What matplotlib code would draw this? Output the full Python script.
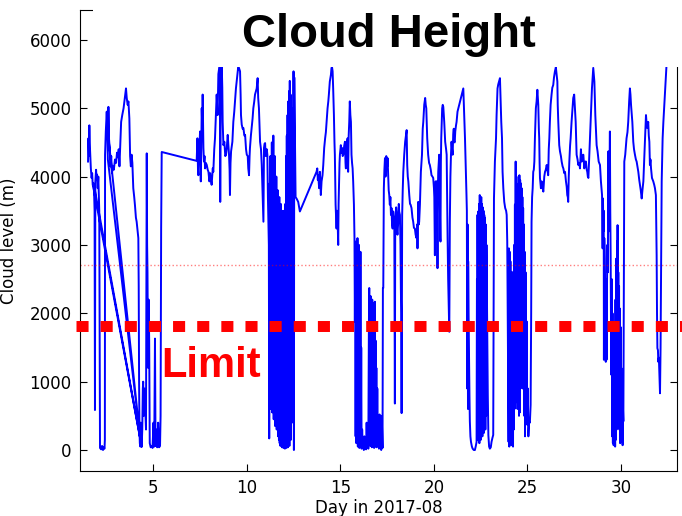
"""
plot.py - cloud height (ceilometer) for August 2017, with the limit line.
Values read off the reference picture; order follows the logger file
(it jumps back in time twice near the start, hence the diagonal lines).
"""

import matplotlib
matplotlib.use("Agg")
import matplotlib.pyplot as plt
from matplotlib.patches import Rectangle

# ---------------------------------------------------------------------------
# data: day of month / cloud level in metres
# ---------------------------------------------------------------------------
days_w1 = [1.50, 1.52, 1.55, 1.57, 1.59, 1.62, 1.65, 1.69, 1.72, 1.75, 1.78,
           4.37, 1.80,
           1.83, 1.85, 1.87, 1.89, 1.93, 1.96, 1.98, 2.02, 2.05, 2.10, 2.14,
           2.20, 2.25, 2.30, 2.35, 2.38, 2.40, 2.41, 2.45, 2.50, 2.53, 2.56,
           4.28, 2.58,
           2.59, 2.62, 2.66, 2.70, 2.74, 2.78, 2.83, 2.88, 2.94, 3.00, 3.05,
           3.10, 3.14, 3.18, 3.22, 3.27, 3.33, 3.40, 3.47, 3.53, 3.57, 3.62,
           3.66, 3.71, 3.75, 3.79, 3.83, 3.87, 3.92, 3.97, 4.01, 4.06, 4.10,
           4.15, 4.19, 4.21, 4.23, 4.25, 4.27, 4.30, 4.32, 4.35, 4.37, 4.40,
           4.43, 4.45, 4.48, 4.52, 4.56, 4.60, 4.62, 4.64, 4.66, 4.68, 4.70,
           4.72, 4.74, 4.77, 4.80, 4.85, 4.90, 4.95, 5.00, 5.04, 5.08, 5.11,
           5.15, 5.20, 5.25, 5.30, 5.35, 5.38, 5.41, 5.44]
level_w1 = [4220, 4560, 4300, 4750, 4500, 4320, 4120, 3980, 4050, 3880, 3850,
            50, 3900,
            3700, 3500, 585, 3930, 4100, 3950, 4030, 3830, 4000, 3500, 30,
            10, 60, 0, 40, 20, 150, 4320, 4660, 4950, 4700, 4250,
            190, 4600,
            5020, 4560, 4400, 4150, 4300, 4050, 4150, 4100, 4250, 4200, 4350,
            4280, 4400, 4150, 4450, 4800, 4900, 5000, 5150, 5290, 5150, 5050,
            5100, 4850, 4300, 4150, 4320, 4200, 3830, 3700, 3580, 3400, 3340,
            3200, 3100, 2400, 1000, 300, 100, 50, 400, 150, 50, 300,
            900, 1000, 500, 900, 600, 300, 2500, 4340, 3000, 2600, 1650,
            1200, 2200, 1600, 100, 40, 60, 30, 400, 50, 1630, 60,
            300, 40, 400, 40, 60, 500, 3250, 4360]

days_w2 = [7.31, 7.35, 7.38, 7.40, 7.43, 7.45, 7.49, 7.53, 7.56, 7.58, 7.61,
           7.63, 7.67, 7.70, 7.73, 7.76, 7.80, 7.85, 7.90, 7.94, 7.99, 8.03,
           8.06, 8.11, 8.15, 8.17, 8.20, 8.25, 8.29, 8.34, 8.38, 8.43, 8.47,
           8.52, 8.56, 8.57, 8.59, 8.61, 8.65, 8.68, 8.70, 8.74, 8.79, 8.84,
           8.88, 8.92, 8.97, 9.01, 9.04, 9.07, 9.09, 9.12, 9.15, 9.22, 9.27,
           9.32, 9.36, 9.41, 9.49, 9.53, 9.57, 9.63, 9.66, 9.68, 9.72, 9.77,
           9.81, 9.86, 9.90, 9.95, 9.99, 10.04, 10.07, 10.11, 10.14, 10.16,
           10.21, 10.25, 10.30, 10.34, 10.39, 10.43, 10.52, 10.57, 10.60,
           10.64, 10.70, 10.75, 10.79, 10.82, 10.84, 10.88, 10.90, 10.91,
           10.94, 10.97, 11.00, 11.02, 11.06, 11.09, 11.12, 11.14, 11.17,
           # low cloud, 11-12 Aug
           11.19, 11.21, 11.23, 11.25, 11.27, 11.29, 11.31, 11.33, 11.35,
           11.37, 11.39, 11.41, 11.43, 11.45, 11.47, 11.49, 11.51, 11.53,
           11.55, 11.57, 11.59, 11.61, 11.63, 11.65, 11.67, 11.69, 11.71,
           11.73, 11.75, 11.77, 11.79, 11.81, 11.83, 11.85, 11.87, 11.89,
           11.91, 11.93, 11.95, 11.97, 11.99, 12.01, 12.03, 12.05, 12.07,
           12.09, 12.11, 12.13, 12.15, 12.17, 12.19, 12.21, 12.23, 12.25,
           12.27, 12.29, 12.31, 12.33, 12.35, 12.37, 12.40, 12.43, 12.46,
           12.49, 12.51, 12.53, 12.56, 12.60, 12.65, 12.74, 12.83]
level_w2 = [4230, 4560, 4100, 4020, 4400, 4370, 4660, 3930, 4500, 5000, 4700,
            5200, 4420, 4220, 4300, 4120, 4200, 4170, 4100, 4070, 3930, 4050,
            3970, 3880, 4050, 4120, 4070, 4400, 4560, 4900, 5200, 4900, 5500,
            5600, 5590, 3630, 5200, 5340, 5640, 5300, 4800, 4460, 4510, 4300,
            4320, 4420, 4610, 4450, 4320, 4100, 3730, 4200, 4370, 4510, 4800,
            4950, 5100, 5290, 5490, 5600, 5590, 5540, 5200, 4900, 4760, 4700,
            4710, 4600, 4610, 4400, 4320, 4300, 4120, 4020, 4300, 4420,
            4600, 4710, 4850, 5000, 5100, 5200, 5290, 5440, 5150,
            5000, 4510, 4400, 4170, 3900, 3680, 3340, 4000, 4420,
            4480, 4490, 4300, 4320, 4400, 4320, 3700, 3440, 3000,
            170, 3900, 900, 4300, 600, 4200, 1200, 4500, 550,
            4400, 800, 4600, 450, 4100, 700, 4300, 350, 3900,
            600, 4000, 300, 3700, 450, 3800, 200, 3500, 150,
            3700, 100, 3500, 60, 3600, 120, 3400, 40, 3300,
            80, 3500, 30, 3200, 60, 3250, 20, 3600, 50,
            4300, 30, 4600, 80, 4900, 40, 5100, 100, 5250,
            60, 5400, 200, 5200, 150, 4800, 400, 5000, 600,
            5540, 0, 5450, 4700, 3700, 3680, 3630, 3490]

days_w3 = [13.72, 13.76, 13.79, 13.81, 13.84, 13.86, 13.90, 13.93, 13.95,
           13.99, 14.04, 14.08, 14.13, 14.18, 14.22, 14.26, 14.31, 14.35,
           14.38, 14.43, 14.49, 14.52, 14.55, 14.58, 14.61, 14.65, 14.68,
           14.70, 14.72, 14.74, 14.77, 14.79, 14.82, 14.84, 14.86, 14.88,
           14.90, 14.92, 14.95, 14.97, 15.00, 15.02, 15.05, 15.08, 15.12,
           15.15, 15.20, 15.24, 15.27, 15.29, 15.31, 15.33, 15.36, 15.38,
           15.41, 15.44, 15.47, 15.50, 15.53, 15.56, 15.59, 15.62, 15.65,
           15.68, 15.72, 15.75, 15.77,
           # fog, 16-17 Aug
           15.79, 15.81, 15.83, 15.85, 15.87, 15.89, 15.91, 15.93, 15.95,
           15.97, 15.99, 16.01, 16.03, 16.05, 16.07, 16.09, 16.11, 16.13,
           16.16, 16.19, 16.22, 16.25, 16.28, 16.31, 16.34, 16.37, 16.40,
           16.43, 16.46, 16.49, 16.52, 16.54, 16.56, 16.58, 16.60, 16.62,
           16.64, 16.66, 16.68, 16.70, 16.72, 16.74, 16.76, 16.78, 16.80,
           16.82, 16.84, 16.86, 16.88, 16.90, 16.92, 16.94, 16.97, 17.00,
           17.03, 17.06, 17.09, 17.12, 17.15, 17.18, 17.21, 17.25, 17.27]
level_w3 = [4070, 4120, 3950, 4020, 3900, 3830, 4070, 3850, 3730,
            3930, 4020, 4170, 4420, 4560, 4650, 4800, 5000, 5100,
            5200, 5390, 5490, 5590, 5600, 5540, 5290, 4900, 4500,
            4320, 3900, 3590, 3400, 3240, 3500, 3440, 3200, 3000,
            3600, 3830, 4200, 4320, 4400, 4460, 4350, 4420, 4300,
            4320, 4450, 4510, 4200, 4120, 4400, 4370, 4500, 4560,
            4070, 4600, 4800, 5100, 4900, 4800, 4320, 4200, 4120,
            3930, 3590, 3100, 1880,
            2950, 200, 3050, 100, 2900, 300, 3100, 50, 2800,
            150, 3000, 30, 2700, 100, 2900, 60, 1500, 20,
            300, 80, 150, 0, 200, 20, 120, 10, 400,
            50, 250, 20, 1800, 2370, 100, 2200, 60, 2250,
            150, 2100, 40, 2200, 100, 2050, 60, 2150, 30,
            2100, 2170, 50, 1600, 100, 1200, 40, 900, 60,
            500, 20, 520, 100, 300, 0, 500, 30, 2370]

days_w4 = [17.29, 17.32, 17.35, 17.38, 17.41, 17.43, 17.45, 17.47, 17.50,
           17.52, 17.56, 17.58, 17.61, 17.64, 17.67, 17.70, 17.73, 17.76,
           17.79, 17.82, 17.85, 17.88, 17.91, 17.93, 17.95, 17.98, 18.00,
           18.03, 18.05, 18.09, 18.12, 18.14, 18.18, 18.21, 18.23, 18.25,
           18.27, 18.29, 18.30, 18.33, 18.36, 18.41, 18.46, 18.50, 18.54,
           18.57, 18.60, 18.63, 18.68, 18.72, 18.75, 18.80, 18.85, 18.89,
           18.93, 18.98, 19.02, 19.07, 19.10, 19.12, 19.16, 19.19, 19.21,
           19.25, 19.30, 19.36, 19.40, 19.43, 19.48, 19.53, 19.56, 19.59,
           19.64, 19.69, 19.74, 19.78, 19.83, 19.87, 19.92, 19.96, 20.00,
           20.02, 20.05, 20.07, 20.09, 20.12, 20.14, 20.17, 20.19, 20.21,
           20.23, 20.28, 20.30, 20.32, 20.34, 20.35, 20.37, 20.39, 20.44,
           20.47, 20.50, 20.55, 20.60, 20.65, 20.68, 20.71, 20.73, 20.76,
           20.78, 20.82, 20.85, 20.88, 20.91, 20.94, 20.97, 21.00, 21.03,
           21.06, 21.08, 21.11, 21.14, 21.18, 21.21, 21.26, 21.57, 21.60,
           21.66, 21.71, 21.74, 21.76, 21.78, 21.80, 21.82, 21.83, 21.85,
           21.87, 21.90, 21.92, 21.95, 21.98, 22.03, 22.07, 22.13, 22.19,
           22.24, 22.28,
           # low cloud, 22 Aug
           22.30, 22.32, 22.33, 22.35, 22.37, 22.39, 22.41, 22.43, 22.45,
           22.47, 22.49, 22.51, 22.53, 22.55, 22.57, 22.59, 22.61, 22.63,
           22.65, 22.67, 22.69, 22.71, 22.73, 22.75, 22.77, 22.79, 22.81]
level_w4 = [2370, 3830, 4100, 4270, 4000, 4070, 4300, 4220, 4150,
            4270, 3930, 3800, 3730, 3590, 3700, 3440, 3540, 3300,
            3240, 3490, 3350, 3340, 680, 3400, 3440, 3550, 3490,
            3200, 3150, 3340, 3600, 3490, 3440, 3000, 2370, 2000,
            540, 2500, 3440, 3800, 4070, 4320, 4510, 4600, 4680,
            4170, 4000, 3930, 3730, 3600, 3590, 3540, 3400, 3340,
            3250, 3240, 3150, 3100, 3300, 2950, 3630, 3300, 3340,
            3590, 4070, 4320, 4700, 4800, 5050, 5150, 5050, 5000,
            4560, 4320, 4200, 4170, 4100, 4020, 4000, 3980, 3830,
            3700, 2850, 3700, 3930, 3900, 3930, 3600, 2660, 3800,
            4070, 4320, 3900, 3590, 3100, 3050, 4200, 4560, 5000,
            5050, 5020, 4800, 4510, 4400, 4320, 3500, 3100, 2500,
            2220, 1730, 3340, 4000, 4320, 4510, 4400, 4320, 4610,
            4700, 4510, 4500, 4660, 4750, 4800, 4950, 5290, 5050,
            4560, 4070, 3730, 3500, 900, 3300, 600, 2760, 2000,
            1490, 800, 420, 200, 120, 50, 20, 0, 0,
            60, 120,
            2500, 150, 3440, 300, 3490, 200, 3600, 100, 3730,
            250, 3650, 150, 3700, 300, 3600, 200, 3550, 350,
            3500, 250, 3440, 400, 3400, 300, 3300, 500, 3000]

days_w5 = [22.83, 22.86, 22.88, 22.91, 22.95, 22.99, 23.04, 23.08, 23.13,
           23.17, 23.19, 23.21, 23.26, 23.32, 23.35, 23.40, 23.44, 23.48,
           23.53, 23.57, 23.60, 23.64, 23.67, 23.71, 23.76, 23.81, 23.86,
           23.89, 23.92, 23.96, 23.99,
           # low cloud, 24 Aug
           24.01, 24.03, 24.05, 24.07, 24.09, 24.11, 24.13, 24.15, 24.17,
           24.19, 24.21, 24.23, 24.25, 24.27, 24.29, 24.31, 24.33, 24.35,
           24.37, 24.39, 24.41, 24.43, 24.45, 24.47, 24.49, 24.51, 24.53,
           24.55, 24.57, 24.59, 24.61, 24.63, 24.65, 24.67, 24.69, 24.71,
           24.73, 24.75, 24.77, 24.79, 24.81, 24.83, 24.85, 24.87, 24.90,
           24.93, 24.96, 24.99, 25.02, 25.05, 25.09, 25.13, 25.17, 25.20,
           25.22, 25.25, 25.28, 25.31, 25.34, 25.37, 25.40, 25.43, 25.45,
           25.49, 25.53, 25.56, 25.58, 25.61, 25.63, 25.65, 25.67, 25.70,
           25.72, 25.76, 25.80, 25.85, 25.90, 25.94, 25.98, 26.03, 26.07,
           26.11, 26.14, 26.17, 26.20, 26.24, 26.29, 26.33, 26.38, 26.42,
           26.47, 26.52, 26.56, 26.60, 26.62, 26.65, 26.70, 26.74, 26.79,
           26.83, 26.88, 26.92, 26.97, 27.01, 27.06, 27.10, 27.13, 27.16,
           27.18, 27.21, 27.24, 27.28, 27.31, 27.36, 27.41, 27.45, 27.50,
           27.54, 27.58, 27.63, 27.68, 27.72, 27.77, 27.81, 27.86, 27.90,
           27.94, 27.99, 28.04]
level_w5 = [2370, 1460, 800, 220, 50, 20, 40, 120, 180,
            220, 2000, 3680, 4220, 4560, 4900, 5290, 5350, 5390,
            5440, 5050, 4800, 4560, 4070, 3830, 3630, 3540, 3500,
            3440, 3050, 1390, 120,
            2950, 50, 2900, 1460, 2760, 300, 2600, 70, 2370,
            200, 2500, 50, 2610, 300, 3000, 600, 3590, 830,
            4220, 700, 4000, 1460, 3830, 600, 3750, 730, 3900,
            500, 4020, 550, 3950, 900, 3900, 1000, 3830, 1390,
            3700, 900, 3540, 1100, 3300, 500, 2900, 200, 2600,
            500, 1880, 370, 900, 200, 420, 400, 660, 2000,
            3340, 3700, 3830, 4070, 4100, 4220, 4560, 4800, 5000,
            5100, 5270, 5150, 5050, 4700, 4560, 4200, 3980, 3880,
            3830, 3930, 3850, 3780, 4000, 4070, 4100, 4170, 4100,
            4020, 4400, 4560, 4800, 5050, 5200, 5300, 5340, 5450,
            5540, 5600, 5500, 5390, 5050, 4800, 4460, 4370, 4300,
            4220, 4150, 4120, 4050, 4070, 3930, 3850, 3730, 3700,
            3630, 4000, 4220, 4450, 4560, 4800, 5000, 5150, 5200,
            5000, 4800, 4320, 4250, 4170, 4200, 4120, 4400, 4220,
            4300, 4320, 4120]

days_w6 = [28.09, 28.13, 28.17, 28.20, 28.23, 28.26, 28.31, 28.38, 28.45,
           28.52, 28.58, 28.63, 28.70, 28.75, 28.81, 28.88, 28.93, 28.99,
           # low cloud, 29-30 Aug
           29.02, 29.04, 29.06, 29.08, 29.09, 29.11, 29.13, 29.15, 29.17,
           29.19, 29.21, 29.23, 29.25, 29.27, 29.30, 29.33, 29.36, 29.39,
           29.41, 29.43, 29.45, 29.47, 29.49, 29.51, 29.53, 29.55, 29.57,
           29.59, 29.61, 29.63, 29.65, 29.67, 29.69, 29.71, 29.73, 29.75,
           29.77, 29.79, 29.81, 29.82, 29.84, 29.86, 29.88, 29.90, 29.92,
           29.94, 29.96, 29.98, 30.00, 30.02, 30.04, 30.07, 30.09, 30.11,
           30.13, 30.16,
           30.18, 30.23, 30.30, 30.35, 30.39, 30.44, 30.48, 30.51, 30.54,
           30.58, 30.61, 30.66, 30.70, 30.75, 30.80, 30.84, 30.88, 30.93,
           30.98, 31.02, 31.06, 31.11, 31.15, 31.20, 31.25, 31.29, 31.34,
           31.38, 31.41, 31.46, 31.49, 31.52, 31.55, 31.58, 31.61, 31.66,
           31.70, 31.73, 31.78, 31.82, 31.87, 31.91, 31.93, 31.95, 31.98,
           32.00, 32.03, 32.05, 32.07, 32.09, 32.12, 32.14, 32.18, 32.23,
           32.27, 32.32, 32.37, 32.41, 32.44, 32.46]
level_w6 = [4220, 4220, 4100, 4070, 4000, 3980, 4320, 4800, 5290,
            5590, 5390, 4900, 4460, 4370, 4220, 4170, 3930, 3730,
            2950, 3680, 3200, 3500, 1320, 3100, 2800, 2370, 2000,
            1290, 2500, 1320, 2200, 3000, 2600, 4370, 3200, 4000,
            4660, 3500, 2850, 1800, 1100, 2500, 200, 2000, 100,
            1500, 70, 1800, 120, 1200, 50, 2200, 150, 2800,
            300, 3050, 500, 3290, 800, 2600, 900, 2400, 300,
            2070, 100, 1800, 200, 1200, 320, 900, 70, 600,
            420, 2500,
            4220, 4320, 4560, 4650, 4800, 5100, 5290, 5200, 5050,
            4900, 4800, 4510, 4400, 4320, 4250, 4220, 4150, 4070,
            3950, 3880, 3800, 3680, 3800, 3930, 4300, 4560, 4900,
            4750, 4710, 4800, 4600, 4510, 4170, 4250, 4120, 3980,
            3950, 3930, 3880, 3830, 3730, 2850, 2000, 1490, 1460,
            1290, 1350, 1150, 1000, 830, 1500, 2370, 3930, 4560,
            4800, 5050, 5290, 5490, 5640, 5700]

LIMIT = 1810          # cloud base limit (m)
REFERENCE = 2710      # thin dotted reference level (m)
TITLE = "Cloud Height"


def main():
    days = days_w1 + days_w2 + days_w3 + days_w4 + days_w5 + days_w6
    level = level_w1 + level_w2 + level_w3 + level_w4 + level_w5 + level_w6

    fig = plt.figure(figsize=(6.82, 5.16), dpi=100)
    ax = fig.add_axes([0.1173, 0.0872, 0.8754, 0.8934])

    ax.plot(days, level, color="b", lw=1.4)
    ax.axhline(REFERENCE, color="r", alpha=0.5, lw=1.0, ls=":")
    # the thick limit line runs a bit past both sides of the frame
    ax.plot([0.86, 35], [LIMIT, LIMIT], color="r", lw=7.9,
            ls=(0, (1.1, 1.1)), clip_on=False, zorder=3)
    ax.text(5.43, 1070, "Limit", color="r", fontsize=30,
            fontweight="bold", family="Liberation Sans", va="baseline")

    ax.set_xlim(1.07, 33.0)
    ax.set_ylim(-307, 6437)
    ax.set_xticks([5, 10, 15, 20, 25, 30])
    ax.set_yticks([0, 1000, 2000, 3000, 4000, 5000, 6000])
    ax.tick_params(direction="in", top=True, right=True, length=5,
                   labelsize=12, pad=6)
    ax.set_xlabel("Day in 2017-08", fontsize=12, labelpad=1)
    ax.set_ylabel("Cloud level (m)", fontsize=12, labelpad=8)

    # white block behind the title hides the top of the frame
    fig.patches.append(Rectangle((93 / 682, 1 - 67 / 516), 1, 1,
                                 transform=fig.transFigure,
                                 facecolor="white", edgecolor="none",
                                 zorder=5))
    fig.text(388.5 / 682, 1 - 47 / 516, TITLE, fontsize=34,
             fontweight="bold", family="Liberation Sans",
             ha="center", va="baseline", zorder=6)

    fig.savefig("out.png", dpi=100)


if __name__ == "__main__":
    main()
